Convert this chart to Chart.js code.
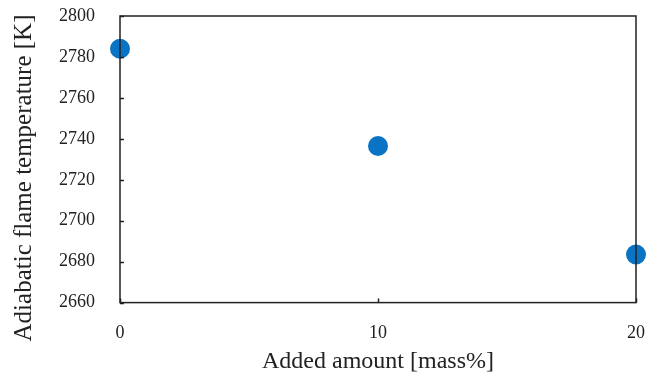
<!DOCTYPE html>
<html>
<head>
<meta charset="utf-8">
<script src="https://cdn.jsdelivr.net/npm/chart.js@4"></script>
<style>
  html, body { margin: 0; padding: 0; background: #fff; }
  #wrap { width: 659px; height: 380px; }
</style>
</head>
<body>
<div id="wrap"><canvas id="myCanvas"></canvas></div>
<script>
// values
var added_amount = [0, 10, 20];
var flame_temp = [2784, 2736.5, 2683.5];
var y_ticks = [2660, 2680, 2700, 2720, 2740, 2760, 2780, 2800];
var x_ticks = [0, 10, 20];
var y_title = 'Adiabatic flame temperature [K]';
var x_title = 'Added amount [mass%]';

var serif = "'Liberation Serif', 'DejaVu Serif', serif";

// frame round the plot, small inward ticks, and the y title
// (drawn here because in the original it sits lower than the plot centre)
var framePlugin = {
    id: 'frame',
    afterDraw: function (chart) {
        var ctx = chart.ctx;
        var a = chart.chartArea;
        var ys = chart.scales.y;
        var xs = chart.scales.x;
        ctx.save();
        ctx.strokeStyle = '#222';
        ctx.lineWidth = 1.5;
        ctx.strokeRect(a.left, a.top, a.right - a.left, a.bottom - a.top);
        ctx.beginPath();
        for (var i = 0; i < y_ticks.length; i++) {
            var py = Math.round(ys.getPixelForValue(y_ticks[i])) + 0.5;
            ctx.moveTo(a.left, py);
            ctx.lineTo(a.left + 4, py);
        }
        for (var j = 0; j < x_ticks.length; j++) {
            var px = Math.round(xs.getPixelForValue(x_ticks[j])) + 0.5;
            ctx.moveTo(px, a.bottom);
            ctx.lineTo(px, a.bottom - 4);
        }
        ctx.stroke();

        ctx.translate(24, 178);
        ctx.rotate(-Math.PI / 2);
        ctx.fillStyle = '#222';
        ctx.font = '25px ' + serif;
        ctx.textAlign = 'center';
        ctx.textBaseline = 'middle';
        ctx.fillText(y_title, 0, 0);
        ctx.restore();
    }
};

var points = [];
for (var i = 0; i < added_amount.length; i++) {
    points.push({ x: added_amount[i], y: flame_temp[i] });
}

// invisible tick marks used only as spacing between axis and labels
function spacer(len) {
    return { display: true, drawOnChartArea: false, drawTicks: true, tickLength: len, tickColor: 'rgba(0,0,0,0)', color: 'rgba(0,0,0,0)' };
}

new Chart(document.getElementById('myCanvas'), {
    type: 'scatter',
    data: {
        datasets: [{
            data: points,
            backgroundColor: '#0A74C4',
            borderColor: '#0A74C4',
            borderWidth: 0,
            pointRadius: 10,
            pointHoverRadius: 10,
            clip: false
        }]
    },
    options: {
        responsive: true,
        maintainAspectRatio: false,
        animation: false,
        events: [],
        layout: { autoPadding: false, padding: { top: 16, right: 23, left: 59, bottom: 4 } },
        plugins: {
            legend: { display: false },
            tooltip: { enabled: false }
        },
        scales: {
            x: {
                type: 'linear',
                min: 0,
                max: 20,
                afterBuildTicks: function (s) { s.ticks = x_ticks.map(function (v) { return { value: v }; }); },
                grid: spacer(20),
                border: { display: false },
                ticks: { color: '#222', padding: 0, maxRotation: 0, font: { family: serif, size: 18 }, callback: function (v) { return String(v); } },
                title: {
                    display: true,
                    text: x_title,
                    color: '#222',
                    padding: { top: 3, bottom: 0 },
                    font: { family: serif, size: 24 }
                }
            },
            y: {
                min: 2660,
                max: 2800,
                afterBuildTicks: function (s) { s.ticks = y_ticks.map(function (v) { return { value: v }; }); },
                grid: spacer(25),
                border: { display: false },
                ticks: { color: '#222', padding: 0, font: { family: serif, size: 18 }, callback: function (v) { return String(v); } },
                title: { display: false }
            }
        }
    },
    plugins: [framePlugin]
});
</script>
</body>
</html>
